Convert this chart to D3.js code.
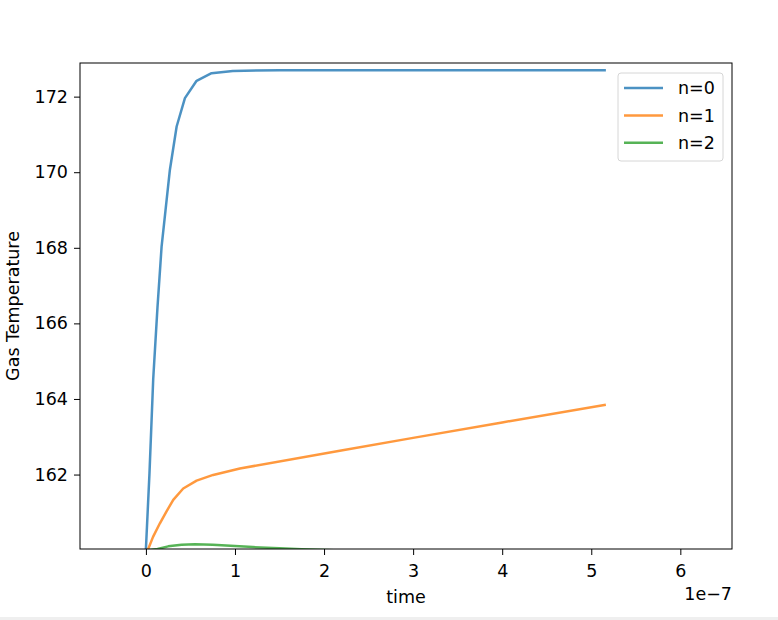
<!DOCTYPE html>
<meta charset="utf-8">
<script src="https://cdn.jsdelivr.net/npm/d3@7"></script>
<style>
body{margin:0;background:#fff;}
text{
  font-family: "DejaVu Sans", sans-serif;
  font-size: 17.5px;
  fill: black;
}
</style>
<body>
<div id="p1"></div>

<script>
// time is in units of 1e-7 (shown as axis offset)
var time0 = [0, 0.04, 0.082, 0.13, 0.176, 0.22, 0.269, 0.345, 0.438, 0.569, 0.737, 0.976, 1.5, 2.5, 3.5, 4.5, 5.15]
var temp0 = [160.03, 162.03, 164.53, 166.43, 168.03, 168.99, 170.06, 171.21, 171.96, 172.42, 172.62, 172.68, 172.70, 172.70, 172.70, 172.70, 172.70]

var time1 = [0, 0.026, 0.08, 0.157, 0.23, 0.307, 0.419, 0.569, 0.755, 1.055, 2.177, 3.0, 4.0, 5.15]
var temp1 = [159.98, 160.03, 160.35, 160.71, 161.02, 161.33, 161.63, 161.84, 161.99, 162.16, 162.63, 162.97, 163.38, 163.84]

var time2 = [0, 0.13, 0.25, 0.4, 0.55, 0.75, 1.0, 1.2, 1.5, 1.75, 2.2, 3.0, 4.0, 5.15]
var temp2 = [159.99, 160.03, 160.10, 160.145, 160.155, 160.145, 160.11, 160.08, 160.05, 160.025, 159.99, 159.95, 159.9, 159.85]

var seriesNames = ["n=0", "n=1", "n=2"]
var seriesColors = ["#1f77b4", "#ff7f0e", "#2ca02c"]
var xTicks = [0, 1, 2, 3, 4, 5, 6]
var yTicks = [162, 164, 166, 168, 170, 172]

var series = [
  {name: seriesNames[0], pts: d3.zip(time0, temp0)},
  {name: seriesNames[1], pts: d3.zip(time1, temp1)},
  {name: seriesNames[2], pts: d3.zip(time2, temp2)}
]

var W = 778, H = 620
var plot = {left: 80, right: 732, top: 63, bottom: 549}

var svg = d3.select("#p1").append("svg")
    .attr("width", W)
    .attr("height", H)

var xScale = d3.scaleLinear().domain([-0.74, 6.58]).range([plot.left, plot.right])
var yScale = d3.scaleLinear().domain([160.03, 172.89]).range([plot.bottom, plot.top])

svg.append("clipPath").attr("id", "clip")
  .append("rect")
    .attr("x", plot.left).attr("y", plot.top)
    .attr("width", plot.right - plot.left)
    .attr("height", plot.bottom - plot.top)

//lines
var line = d3.line()
    .x(function(d){ return xScale(d[0]) })
    .y(function(d){ return yScale(d[1]) })

svg.append("g").attr("clip-path", "url(#clip)")
  .selectAll("path")
  .data(series).enter()
  .append("path")
    .attr("d", function(d){ return line(d.pts) })
    .attr("fill", "none")
    .attr("stroke", function(d, i){ return seriesColors[i] })
    .attr("stroke-opacity", 0.8)
    .attr("stroke-width", 2.5)
    .attr("stroke-linejoin", "round")
    .attr("stroke-linecap", "square")

//axes
var xAxis = svg.append("g")
    .attr("transform", "translate(0," + plot.bottom + ")")
    .call(d3.axisBottom(xScale).tickValues(xTicks).tickSize(6).tickPadding(10).tickFormat(d3.format("d")))
var yAxis = svg.append("g")
    .attr("transform", "translate(" + plot.left + ",0)")
    .call(d3.axisLeft(yScale).tickValues(yTicks).tickSize(6).tickPadding(6).tickFormat(d3.format("d")))

svg.selectAll(".domain").remove()
svg.selectAll(".tick line").attr("stroke", "#000").attr("stroke-width", 1)
svg.selectAll(".tick text")
    .attr("font-family", "DejaVu Sans, sans-serif")
    .attr("font-size", 17.5)
    .attr("fill", "#000")

svg.append("rect")
    .attr("x", plot.left).attr("y", plot.top)
    .attr("width", plot.right - plot.left)
    .attr("height", plot.bottom - plot.top)
    .attr("fill", "none")
    .attr("stroke", "#000")
    .attr("stroke-width", 1)

//labels
svg.append("text")
    .attr("x", (plot.left + plot.right) / 2)
    .attr("y", 603)
    .attr("text-anchor", "middle")
    .text("time")

svg.append("text")
    .attr("x", plot.right)
    .attr("y", 600)
    .attr("text-anchor", "end")
    .text("1e\u22127")

svg.append("text")
    .attr("transform", "translate(19," + ((plot.top + plot.bottom) / 2) + ") rotate(-90)")
    .attr("text-anchor", "middle")
    .text("Gas Temperature")

//legend
var legend = svg.append("g").attr("transform", "translate(618,73)")
legend.append("rect")
    .attr("width", 105).attr("height", 88)
    .attr("rx", 3)
    .attr("fill", "#fff").attr("fill-opacity", 0.8)
    .attr("stroke", "#d6d6d6")

var items = legend.selectAll(".item")
    .data(seriesNames).enter()
    .append("g")
    .attr("class", "item")
    .attr("transform", function(d, i){ return "translate(0," + (15 + i * 27.4) + ")" })

items.append("line")
    .attr("x1", 6).attr("x2", 45)
    .attr("stroke", function(d, i){ return seriesColors[i] })
    .attr("stroke-opacity", 0.8)
    .attr("stroke-width", 2.5)

items.append("text")
    .attr("x", 60)
    .attr("dy", "0.35em")
    .text(function(d){ return d })

// faint strip at the bottom edge of the picture
svg.append("rect")
    .attr("x", 0).attr("y", 617)
    .attr("width", W).attr("height", 3)
    .attr("fill", "#efefef")
</script>
</body>
</html>
